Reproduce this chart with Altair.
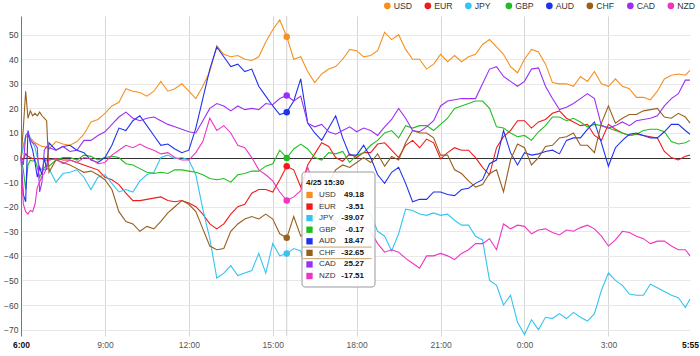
import altair as alt
import pandas as pd

# ---------------- data ----------------
series_names = ["USD", "EUR", "JPY", "GBP", "AUD", "CHF", "CAD", "NZD"]
series_colors = ["#f7901e", "#ee1c1c", "#35c4f0", "#1fbf1f", "#1f33ee", "#98601e", "#9b30f5", "#ef34c4"]

# minutes after 4/25 6:00
minutes = list(range(0, 61, 5)) + list(range(75, 1426, 15)) + [1435]

usd = [0, 4, 8, 9, 8, 7, 6, 5.5, 5, 4.5, 4.5, 4, 3.5,
       6.5, 5.5, 5, 6.5, 9.5, 14.5, 15.5, 18, 21, 22.5, 28,
       27, 26.5, 25, 27, 31, 27, 28, 30, 27, 24, 29, 35, 45.5, 42, 41, 41.5,
       40, 39.5, 41, 47, 52, 56, 49.18, 40, 41, 35, 30.5, 34, 36, 37, 40, 44,
       43.5, 41, 41.5, 43.5, 51, 48, 50, 44, 40, 40, 36, 38, 42, 39, 41.5, 39,
       41, 42, 46, 48, 45, 42, 37, 34.5, 40, 44, 43, 38, 30.5, 30, 30, 29,
       33, 31, 35, 30, 29, 32, 29, 28, 24.5, 24.5, 23.5, 27, 32, 33.5, 34, 33.5,
       35.5]
eur = [0, -1, 1.5, 0.5, 0, -0.5, -0.5, -0.5, -0.5, -0.5, -1, -1, -1,
       -0.5, -1, -1, -2, -3, -4, -5, -8, -9, -11, -14.5,
       -17.5, -17.5, -17, -16.5, -16, -17.5, -18, -17.5, -18.5, -20, -23, -27, -29, -27, -23, -20,
       -19, -14.5, -13, -13, -14, -9, -3.51, -5, -12, -3, 1.5, 6, 4.5, 0, -1.5, 1.5,
       0, 2, 2, 5.5, 6, 3, 0, 5, 7, 4, 7.5, 6, -0.5, 2, 4, 3,
       3, 0, -4, -7, 4, 8.5, 11, 15, 15, 12, 14.5, 15.5, 18, 19, 16, 14.5,
       13, 13.5, 9, 7, 13.5, 11.5, 10, 9, 9.5, 9, 8.5, 8, 2.5, 0, -1, 0.5,
       1]
jpy = [0, 5, 9, 10, 8, 6, 4, 0, -4, -5, -5, -4.5, -4.5,
       -10, -6.5, -6, -5, -8, -13, -8, -7, -10.5, -14, -13,
       -14, -9.5, -7, -6, 0, 1, -0.5, 0, -1, -7, -21, -33, -49, -47, -44, -48,
       -47, -46, -39, -47, -35, -40, -39.07, -37, -38, -50, -44, -38, -32, -27, -22, -20,
       -20, -20, -23, -30, -32, -38, -31, -21, -21.5, -23, -23.5, -22.5, -23.5, -23, -25.5, -27.5,
       -27.5, -32, -33.5, -50, -52, -60, -56, -67, -72, -66, -70, -65, -65.5, -63.5, -65.5, -63,
       -65, -66.5, -63.5, -54, -47, -50, -52, -55.5, -56, -56, -51.5, -53, -54.5, -56, -57, -61,
       -57.5]
gbp = [0, -5, -13, -3, -1, -1.5, -1, -4, -8, -6, -4, -3.5, -3.5,
       -1, 0, 0, -1, 1, 0.5, -1, 0, 0.5, 0, -2.5,
       -3, -4.5, -6, -6.5, -6, -6.5, -5, -5, -5.5, -6, -7, -8.5, -9, -8.5, -10, -7,
       -6.5, -5.5, -5.5, -3.5, -2.5, 3, -0.17, 3.5, 5.5, 3.5, 0, -1, 2, 1.5, 2.5, -2,
       1, 2, 5, 7, 10, 11, 8, 13, 12, 13, 13, 11, 13.5, 16, 20, 21,
       22, 23, 23, 20, 12.5, 12, 10, 8.5, 9, 7, 10.5, 13, 16.5, 16.5, 15, 16,
       14.5, 12.5, 13.5, 13, 12, 11, 10, 9, 9.5, 11, 11.5, 11.5, 10.5, 6.5, 5.5, 6,
       7]
aud = [0, -15, -18, 11, 6, 3, -2, -8, -4, -7, 0, -5, 6,
       3, 4.5, 5, 3, 2, -1, -2, 0, 5, 12, 11,
       15, 17, 13, 9, 5, 5.5, 3.5, 2, 3, 12, 24, 36, 45, 41, 37, 38,
       35, 36, 29, 25, 21, 17.5, 18.47, 23, 32, 14, 10, 7, 12, 17, 8, 1,
       1, 5, 0, -7, -10.5, -6, -4, -10.5, -18, -17, -17, -14, -14, -15, -15.5, -13,
       -12.5, -10.5, -9, -2.5, -1, 11, 2, -3, 2, 1, 1.5, 2.5, 3, 1.5, 7, 8,
       8, 11.5, 14.5, 6, -3.5, 4, 7, 9.5, 10, 9, 8, 8, 10.5, 13.5, 13.5, 11,
       9.5]
chf = [0, 12, 27, 16, 19, 17, 18, 17, 18.5, 17, 16, 15, -6,
       -1, -2, -3, -4.5, -6, -5.5, -7, -9, -13, -22, -26,
       -27, -30, -28, -29, -26, -22.5, -20, -17.5, -19, -22, -29, -36, -37.5, -37, -30, -27,
       -25, -24, -25, -23, -25, -31, -32.65, -24, -32, -30, -24, -17, -10, -5, -3, -4,
       -2, 0, -2, 1.5, -3.5, 0.5, -1, 6, 11, 10, 10, 8, 1, 1, -5, -6.5,
       -9.5, -12, -11, -6.5, -5, -14, -1, 5.5, 4, -3, 0, 4.5, 5, 8, 8.5, 10,
       5, 5, 2, 14, 21, 14, 16, 17.5, 17.5, 19, 19.5, 20, 16.5, 16, 18, 16.5,
       14]
cad = [0, -3, 9, 10, 7, 6, 5.5, 4, -14, -10, 3, 4.5, 4,
       3, 4.5, 2.5, 3, 7, 7, 9, 10.5, 13.5, 16.5, 18.5,
       16, 15, 16, 16.5, 15, 13.5, 12.5, 11.5, 10.5, 10, 15, 20, 22, 21, 19, 21,
       19.5, 20, 19.5, 22, 21.5, 24, 25.27, 23, 25, 14, 12.5, 13.5, 10.5, 9.5, 11, 12.5,
       10.5, 12, 11, 9, 12.5, 15.5, 20, 16, 11, 10.5, 12.5, 15, 21, 23, 23.5, 24,
       24, 24, 30, 36, 37, 33, 31, 29, 31, 36, 36.5, 29, 24, 19.5, 20.5, 22,
       24, 26, 24, 13, 12, 13, 14.5, 13, 15, 15.5, 16, 17, 21, 24, 26, 31.5,
       31.5]
nzd = [0, -19, -22, -23, -21.5, -22, -19, -12, -10, -7.5, -6.5, -4, -1,
       -0.5, -2.5, -1, -2, 0, -0.5, -2.5, -2, 1, 3, 5,
       4, 5.5, 4, 3, 1.5, 2, 0, -1, -1, 2, 6.5, 16, 11, 13, 10, 5,
       4, 0, -5, -7, -9.5, -14, -17.51, -16, -13.5, -4, -12, -18, -23, -27, -29, -30,
       -26, -28, -30, -35, -38.5, -37.5, -38.5, -41, -43, -45, -40, -40, -39, -40, -41.5, -39,
       -37.5, -35, -35, -33, -37.5, -27, -29, -27.5, -28, -31, -29.5, -29, -30.5, -31.5, -29.5, -30,
       -28.5, -27.5, -29, -32, -36, -33.5, -30, -30.5, -32, -33, -35, -34, -34, -36, -37.5, -37.5,
       -40]

series_values = [usd, eur, jpy, gbp, aud, chf, cad, nzd]

x_tick_minutes = [0, 180, 360, 540, 720, 900, 1080, 1260, 1435]
y_ticks = [-70, -60, -50, -40, -30, -20, -10, 0, 10, 20, 30, 40, 50]

hover_minute = 570          # 4/25 15:30
hover_label = "4/25 15:30"
hover_series = "CHF"

# ---------------- tables ----------------
long_rows = []
for name, vals in zip(series_names, series_values):
    for t, v in zip(minutes, vals):
        long_rows.append({"series": name, "t": t, "value": v})
df = pd.DataFrame(long_rows)

hi = minutes.index(hover_minute)
tip = pd.DataFrame({
    "series": series_names,
    "row": list(range(len(series_names))),
    "txt": [f"{vals[hi]:.2f}" for vals in series_values],
})
hrow = series_names.index(hover_series)
edges = pd.DataFrame({"edge": [hrow - 0.5, hrow + 0.5]})
hover_df = pd.DataFrame({"t": [hover_minute], "label": [hover_label]})

# ---------------- scales / axes ----------------
FONT = "Liberation Sans"
xscale = alt.Scale(domain=[0, 1435], nice=False, zero=False)
yscale = alt.Scale(domain=[-72.6, 57.6], nice=False, zero=False)
rowscale = alt.Scale(domain=[0, 7], range=[179, 260], nice=False, zero=False)
cscale = alt.Scale(domain=series_names, range=series_colors)

edge_test = "datum.value == 0 || datum.value == 1435"
xaxis = alt.Axis(
    values=x_tick_minutes,
    labelExpr="(floor(datum.value/60)+6)%24 + ':' + (datum.value%60 < 10 ? '0' : '') + datum.value%60",
    domain=False, ticks=False, grid=True,
    gridColor={"condition": {"test": edge_test, "value": "transparent"}, "value": "#d6d6d6"},
    labelFontWeight={"condition": {"test": edge_test, "value": "bold"}, "value": "normal"},
    labelColor={"condition": {"test": edge_test, "value": "#111"}, "value": "#555"},
    labelPadding=4, labelFlush=False, labelOverlap=False, labelFontSize=8.5, labelFont=FONT,
    title=None,
)
yaxis = alt.Axis(
    values=y_ticks, domain=True, domainColor="#777", ticks=False,
    labelPadding=3, labelColor="#444", labelFontSize=8.5, labelFont=FONT,
    grid=True,
    gridColor={"condition": {"test": "datum.value == 0", "value": "#333"}, "value": "#e8e8e8"},
    title=None,
)

legend = alt.Legend(
    orient="none", legendX=362, legendY=-15, direction="horizontal",
    title=None, symbolType="circle", symbolSize=45, symbolStrokeWidth=0,
    symbolFillColor="#888", symbolOpacity=1,
    labelFontSize=8.7, labelFont=FONT, labelColor="#333", labelOffset=2,
    columnPadding=10.5, gridAlign="all", padding=0,
)

X = alt.X("t:Q", scale=xscale, axis=xaxis)

# ---------------- layers ----------------
hover_rule = alt.Chart(hover_df).mark_rule(color="#cfcfcf", strokeWidth=1).encode(
    x=alt.X("t:Q", scale=xscale, axis=xaxis)
)

# the legend is taken from this filled-circle layer (drawn first, hidden under the lines)
legend_src = alt.Chart(df).transform_filter(alt.datum.t == hover_minute).mark_circle(
    size=1, opacity=0
).encode(
    x=X,
    y=alt.Y("value:Q", scale=yscale, axis=None),
    color=alt.Color("series:N", scale=cscale, legend=legend),
)

lines = alt.Chart(df).mark_line(strokeWidth=1.1, interpolate="linear").encode(
    x=X,
    y=alt.Y("value:Q", scale=yscale, axis=yaxis),
    color=alt.Color("series:N", scale=cscale, legend=None),
)

points = alt.Chart(df).transform_filter(alt.datum.t == hover_minute).mark_circle(
    size=42, opacity=1
).encode(
    x=X,
    y=alt.Y("value:Q", scale=yscale, axis=None),
    color=alt.Color("series:N", scale=cscale, legend=None),
)

box = alt.Chart(hover_df).mark_rect(
    fill="white", fillOpacity=0.88, stroke="#9a9a9a", strokeWidth=1, cornerRadius=3
).encode(x=alt.value(281), x2=alt.value(354), y=alt.value(156), y2=alt.value(271))

title_txt = alt.Chart(hover_df).mark_text(
    align="left", baseline="middle", fontSize=8, fontWeight="bold", font=FONT, color="#111"
).encode(x=alt.value(285), y=alt.value(167), text="label:N")

hl = alt.Chart(edges).mark_rule(color="#c8a46e", strokeWidth=1).encode(
    x=alt.value(281.7), x2=alt.value(350.7),
    y=alt.Y("edge:Q", scale=rowscale, axis=None),
)

swatch = alt.Chart(tip).mark_square(size=40, opacity=1).encode(
    x=alt.value(288.5),
    y=alt.Y("row:Q", scale=rowscale, axis=None),
    color=alt.Color("series:N", scale=cscale, legend=None),
)

names_txt = alt.Chart(tip).mark_text(
    align="left", baseline="middle", fontSize=8, font=FONT, color="#333"
).encode(x=alt.value(298), y=alt.Y("row:Q", scale=rowscale, axis=None), text="series:N")

vals_txt = alt.Chart(tip).mark_text(
    align="right", baseline="middle", fontSize=8, fontWeight="bold", font=FONT, color="#111"
).encode(x=alt.value(343), y=alt.Y("row:Q", scale=rowscale, axis=None), text="txt:N")

chart = alt.layer(
    hover_rule, legend_src, lines, points, box, title_txt, hl, swatch, names_txt, vals_txt
).resolve_scale(y="independent").properties(
    width=669, height=320,
    autosize=alt.AutoSizeParams(type="none"),
    padding={"left": 21, "top": 16, "right": 10, "bottom": 20},
    background="white",
).configure_view(strokeWidth=0)

chart.save("out.html", embed_options={"renderer": "svg", "actions": False})
